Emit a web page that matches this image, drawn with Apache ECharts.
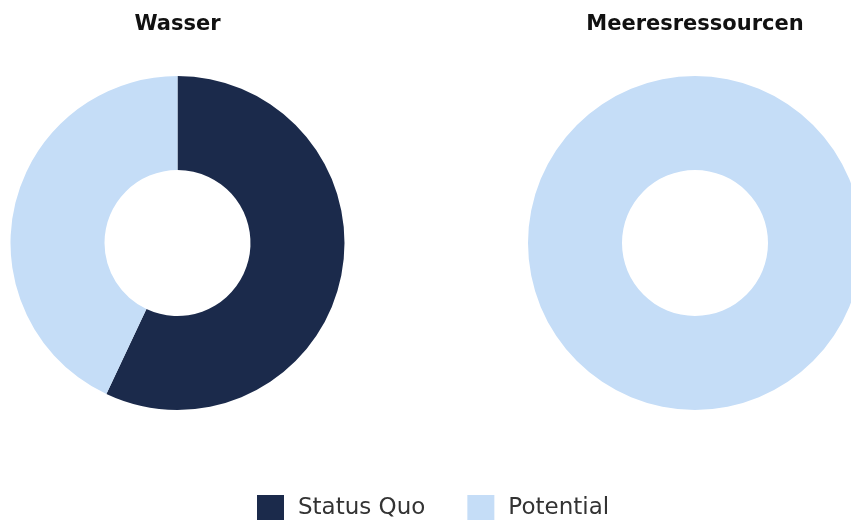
<!DOCTYPE html>
<html>
<head>
<meta charset="utf-8">
<script src="https://cdn.jsdelivr.net/npm/echarts@6/dist/echarts.min.js"></script>
<style>
  html, body { margin: 0; padding: 0; background: #fff; }
  #chart { width: 851px; height: 520px; }
</style>
</head>
<body>
<div id="chart"></div>
<script>
// data
const categories = ['Status Quo', 'Potential']
const charts = ['Wasser', 'Meeresressourcen']
const wasserValues = [57, 43]
const meeresValues = [0, 100]
const colors = ['#1b2a4b', '#c5ddf7']

const font = 'DejaVu Sans'
const centers = [[177.5, 243], [695, 243]]

const makePie = (name, values, center) => ({
  name: name,
  type: 'pie',
  center: center,
  radius: [73, 167],
  startAngle: 90,
  clockwise: true,
  silent: true,
  label: { show: false },
  labelLine: { show: false },
  itemStyle: { borderWidth: 0 },
  emphasis: { disabled: true },
  data: categories.map((c, i) => ({ name: c, value: values[i] }))
})

const option = {
  animation: false,
  color: colors,
  title: charts.map((t, i) => ({
    text: t,
    left: centers[i][0] - 5,
    top: 9,
    textAlign: 'center',
    textStyle: { fontFamily: font, fontSize: 21, fontWeight: 'bold', color: '#111' }
  })),
  legend: {
    data: categories,
    top: 490,
    left: 252,
    itemWidth: 27,
    itemHeight: 27,
    itemGap: 42,
    icon: 'rect',
    textStyle: { fontFamily: font, fontSize: 23, color: '#333', padding: [0, 0, 0, 9] }
  },
  series: [
    makePie(charts[0], wasserValues, centers[0]),
    makePie(charts[1], meeresValues, centers[1])
  ]
}

const myChart = echarts.init(document.getElementById('chart'))
myChart.setOption(option)
</script>
</body>
</html>
